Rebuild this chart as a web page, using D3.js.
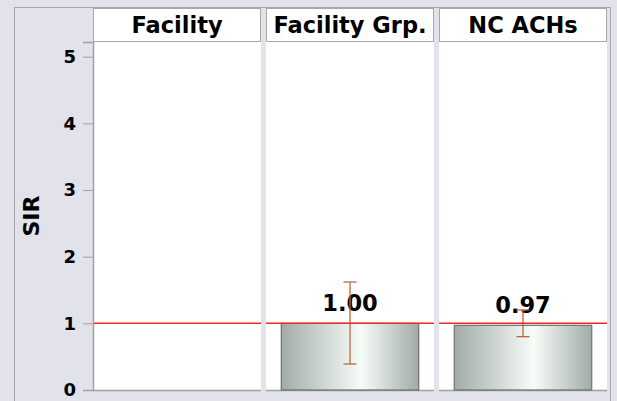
<!DOCTYPE html>
<html>
<head>
<meta charset="utf-8">
<script src="https://cdn.jsdelivr.net/npm/d3@7"></script>
<style>
  html, body { margin: 0; padding: 0; background: #e2e2eb; }
  svg { display: block; font-family: "DejaVu Sans", sans-serif; }
</style>
</head>
<body>
<div id="chart"></div>
<script>
// chart values
const categories = ['Facility', 'Facility Grp.', 'NC ACHs'];
const sirValues = [null, 1.00, 0.97];
const lowerCI = [null, 0.39, 0.80];
const upperCI = [null, 1.62, 1.20];
const yTicks = [0, 1, 2, 3, 4, 5];
const refValue = 1;

const width = 617;
const height = 401;
const margin = { top: 42, right: 10, bottom: 11, left: 93 };

const svg = d3.select('#chart').append('svg')
  .attr('width', width)
  .attr('height', height);

// gradient for the bars
const grad = svg.append('defs').append('linearGradient')
  .attr('id', 'barGrad')
  .attr('x1', '0%').attr('x2', '100%').attr('y1', '0%').attr('y2', '0%');
grad.append('stop').attr('offset', '0%').attr('stop-color', '#a3aba6');
grad.append('stop').attr('offset', '58%').attr('stop-color', '#f6fdf8');
grad.append('stop').attr('offset', '100%').attr('stop-color', '#a3aba6');

// outer frame
svg.append('rect')
  .attr('x', 14.5).attr('y', 7.5)
  .attr('width', 596).attr('height', 420)
  .attr('fill', '#e2e2eb')
  .attr('stroke', '#a4a4ac');

const x = d3.scaleBand()
  .domain(categories)
  .range([margin.left, width - margin.right])
  .paddingInner(0.029);

const xInner = d3.scaleBand()
  .domain([0])
  .range([0, x.bandwidth()])
  .padding(0.1);

const y = d3.scaleLinear()
  .domain([0, 5.22])
  .range([height - margin.bottom, margin.top]);

const panels = svg.selectAll('g.panel')
  .data(categories)
  .join('g')
  .attr('class', 'panel')
  .attr('transform', d => 'translate(' + x(d) + ',0)');

// white plot area
panels.append('rect')
  .attr('x', 0).attr('y', y.range()[1])
  .attr('width', x.bandwidth())
  .attr('height', y.range()[0] - y.range()[1])
  .attr('fill', '#fff');

// header strip
panels.append('rect')
  .attr('x', 0.5).attr('y', 8.5)
  .attr('width', x.bandwidth() - 1).attr('height', margin.top - 9)
  .attr('fill', '#fff')
  .attr('stroke', '#a8a8a8');

panels.append('text')
  .attr('x', x.bandwidth() / 2)
  .attr('y', 33)
  .attr('text-anchor', 'middle')
  .attr('font-weight', 'bold')
  .attr('font-size', 22.5)
  .attr('fill', '#000')
  .text(d => d);

// bottom line of each panel
panels.append('line')
  .attr('x1', 0).attr('x2', x.bandwidth())
  .attr('y1', y(0) + 0.5).attr('y2', y(0) + 0.5)
  .attr('stroke', '#a0a0a0')
  .attr('stroke-width', 1.5);

const rows = categories.map((c, i) => ({
  cat: c, v: sirValues[i], lo: lowerCI[i], hi: upperCI[i]
})).filter(d => d.v != null);

const marks = svg.selectAll('g.mark')
  .data(rows)
  .join('g')
  .attr('class', 'mark')
  .attr('transform', d => 'translate(' + x(d.cat) + ',0)');

marks.append('rect')
  .attr('x', xInner(0))
  .attr('y', d => y(d.v))
  .attr('width', xInner.bandwidth())
  .attr('height', d => y(0) - y(d.v))
  .attr('fill', 'url(#barGrad)')
  .attr('stroke', '#6e706f')
  .attr('stroke-width', 1.2);

// reference line, over the bars
svg.selectAll('line.ref')
  .data(categories)
  .join('line')
  .attr('class', 'ref')
  .attr('x1', d => x(d)).attr('x2', d => x(d) + x.bandwidth())
  .attr('y1', y(refValue)).attr('y2', y(refValue))
  .attr('stroke', '#f02828')
  .attr('stroke-width', 1.5);

marks.append('text')
  .attr('x', x.bandwidth() / 2)
  .attr('y', d => y(d.v) - 12)
  .attr('text-anchor', 'middle')
  .attr('font-weight', 'bold')
  .attr('font-size', 22.5)
  .attr('fill', '#000')
  .text(d => d.v.toFixed(2));

// error bars
const cx = x.bandwidth() / 2;
const errColor = '#c4623c';
marks.append('line')
  .attr('x1', cx).attr('x2', cx)
  .attr('y1', d => y(d.hi)).attr('y2', d => y(d.lo))
  .attr('stroke', errColor).attr('stroke-width', 1.3);
marks.append('line')
  .attr('x1', cx - 6.5).attr('x2', cx + 6.5)
  .attr('y1', d => y(d.hi)).attr('y2', d => y(d.hi))
  .attr('stroke', errColor).attr('stroke-width', 1.3);
marks.append('line')
  .attr('x1', cx - 6.5).attr('x2', cx + 6.5)
  .attr('y1', d => y(d.lo)).attr('y2', d => y(d.lo))
  .attr('stroke', errColor).attr('stroke-width', 1.3);

// y axis
const yAxis = d3.axisLeft(y)
  .tickValues(yTicks)
  .tickSize(10)
  .tickPadding(7)
  .tickFormat(d3.format('d'));

const gy = svg.append('g')
  .attr('class', 'y axis')
  .attr('transform', 'translate(' + margin.left + ',0)')
  .call(yAxis);

gy.select('.domain').attr('stroke', '#a0a0a0').attr('stroke-width', 1.5);
gy.selectAll('.tick line').attr('stroke', '#a0a0a0');
gy.selectAll('.tick text')
  .attr('font-family', '"DejaVu Sans", sans-serif')
  .attr('font-weight', 'bold')
  .attr('font-size', 18)
  .attr('fill', '#000');

svg.append('text')
  .attr('transform', 'translate(39,' + ((y.range()[0] + y.range()[1]) / 2) + ') rotate(-90)')
  .attr('text-anchor', 'middle')
  .attr('font-weight', 'bold')
  .attr('font-size', 22)
  .attr('fill', '#000')
  .text('SIR');
</script>
</body>
</html>
